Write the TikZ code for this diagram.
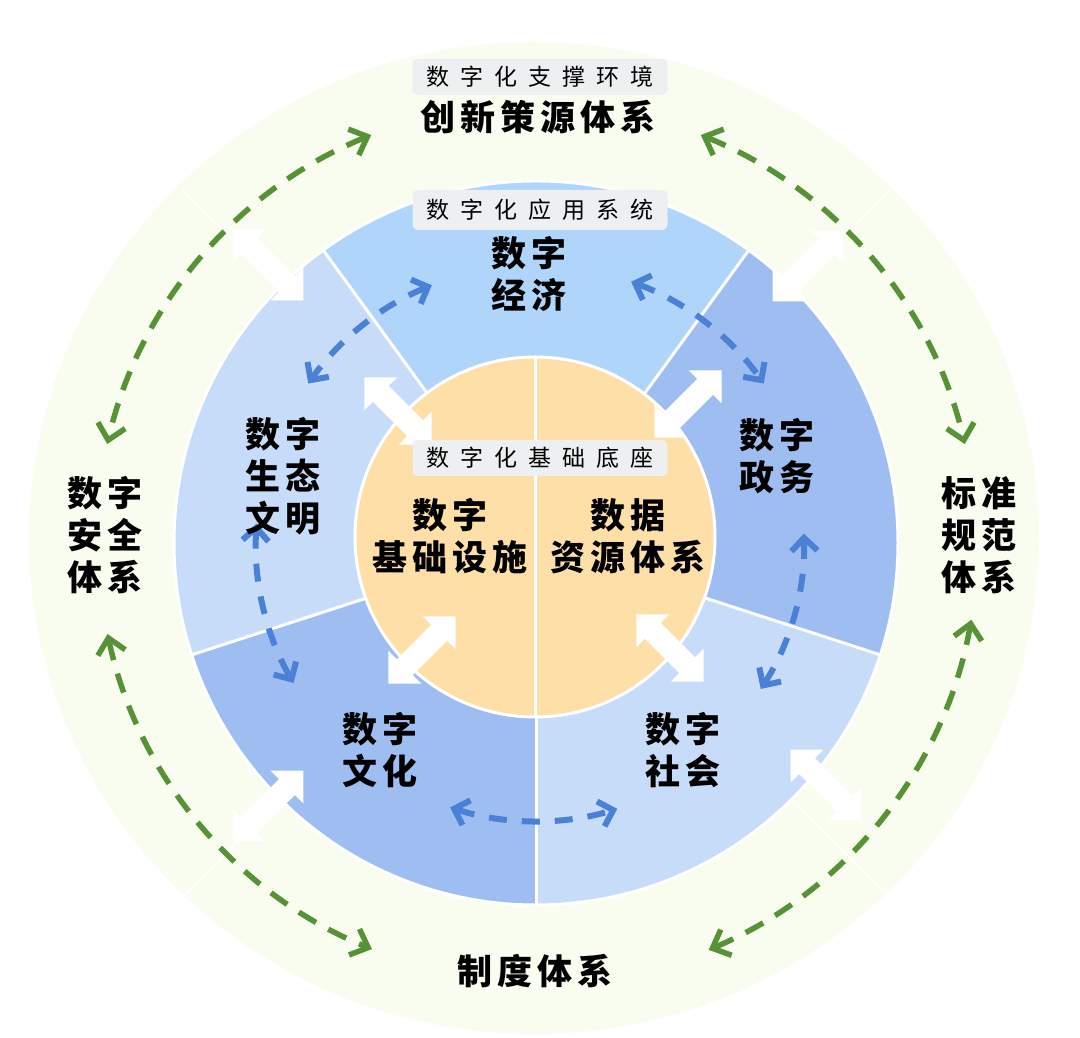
\documentclass[tikz,border=0pt]{standalone}
\usepackage{fontspec}
\newfontfamily\cjk{Noto Sans CJK SC}[LetterSpace=14]
\newfontfamily\cjktag{Noto Sans CJK SC}[LetterSpace=48]
\usetikzlibrary{arrows.meta,shapes.arrows}

\definecolor{ringbg}{RGB}{249,253,239}
\definecolor{sececon}{RGB}{175,214,250}
\definecolor{secpale}{RGB}{199,220,248}
\definecolor{secmid}{RGB}{158,190,241}
\definecolor{basecol}{RGB}{254,223,168}
\definecolor{tagbg}{RGB}{237,239,241}
\definecolor{dashgreen}{RGB}{88,146,54}
\definecolor{dashblue}{RGB}{74,128,214}

\tikzset{
  ringtext/.style={font=\cjk\bfseries\fontsize{35}{42}\selectfont, align=center, inner sep=0pt},
  tagbox/.style={fill=tagbg, rounded corners=5pt, minimum width=255pt, minimum height=36pt,
                 inner sep=0pt, font=\cjktag\fontsize{23}{23}\selectfont},
  blockarrow/.style={double arrow, fill=white, inner xsep=0pt, inner ysep=11pt,
                     double arrow head extend=12pt, double arrow tip angle=90, minimum height=#1},
  blockarrow/.default=95pt,
  greendash/.style={draw=dashgreen, line width=5.5pt, dash pattern=on 20pt off 14pt,
                    >={Straight Barb[length=15pt,width=28pt]}, <->},
  bluedash/.style={draw=dashblue, line width=6pt, dash pattern=on 18pt off 15pt,
                   >={Straight Barb[length=13pt,width=26pt]}, <->},
}

\begin{document}
\begin{tikzpicture}[x=1pt, y=1pt]
    \useasboundingbox (0,0) rectangle (1080,1038);

    % outer ring
    \fill[ringbg] (534,500) ellipse [x radius=505, y radius=496];

    \begin{scope}[shift={(536,495)}]
        \foreach \a in {45,135,225,315}
            \draw[white, line width=2pt] (\a:364) -- (\a:500);

        % application sectors
        \fill[sececon] (0,0) -- (54:362) arc[start angle=54, end angle=126, radius=362] -- cycle;
        \fill[secpale] (0,0) -- (126:362) arc[start angle=126, end angle=198, radius=362] -- cycle;
        \fill[secmid] (0,0) -- (198:362) arc[start angle=198, end angle=270, radius=362] -- cycle;
        \fill[secpale] (0,0) -- (270:362) arc[start angle=270, end angle=342, radius=362] -- cycle;
        \fill[secmid] (0,0) -- (342:362) arc[start angle=342, end angle=414, radius=362] -- cycle;
        \draw[white, line width=3pt] (0,0) circle (362);
        \foreach \a in {54,126,198,270,342}
            \draw[white, line width=3pt] (0,0) -- (\a:362);
    \end{scope}

    % base circle
    \fill[basecol] (535,501) circle (180);
    \draw[white, line width=3pt] (535,501) circle (180);
    \draw[white, line width=3pt] (535,321) -- (535,681);

    % white block arrows
    \node[blockarrow=100pt, rotate=-45] (ao1) at (268,773) {};
    \node[blockarrow=100pt, rotate=45] (ao2) at (808,772) {};
    \node[blockarrow=100pt, rotate=45] (ao3) at (268,232) {};
    \node[blockarrow=100pt, rotate=-45] (ao4) at (826,253) {};
    \node[blockarrow, rotate=-45] (ai1) at (398,627) {};
    \node[blockarrow, rotate=45] (ai2) at (688,634) {};
    \node[blockarrow, rotate=45] (ai3) at (422,388) {};
    \node[blockarrow, rotate=-45] (ai4) at (670,390) {};

    % dashed arcs
    \begin{scope}[shift={(536,495)}]
        \draw[greendash] (112:440) arc[start angle=112, end angle=167, radius=440];
        \draw[greendash] (68:440) arc[start angle=68, end angle=13, radius=440];
        \draw[greendash] (192:438) arc[start angle=192, end angle=248, radius=438];
        \draw[greendash] (293:442) arc[start angle=293, end angle=350, radius=442];

        \draw[bluedash] (112:278) arc[start angle=112, end angle=145, radius=278];
        \draw[bluedash] (70:278) arc[start angle=70, end angle=35, radius=278];
        \draw[bluedash] (176:280) arc[start angle=176, end angle=210, radius=280];
        \draw[bluedash] (2:268) arc[start angle=2, end angle=-33, radius=268];
        \draw[bluedash] (252:278) arc[start angle=252, end angle=287, radius=278];
    \end{scope}

    % tags
    \node[tagbox] (tagenv) at (540,961) {数字化支撑环境};
    \node[tagbox, minimum height=40pt] (tagapp) at (540,828) {数字化应用系统};
    \node[tagbox] (tagbase) at (540,580) {数字化基础底座};

    % labels
    \node[ringtext] (innov) at (538,921) {创新策源体系};
    \node[ringtext] (econ) at (529,764) {数字\\经济};
    \node[ringtext] (infra) at (450,502) {数字\\基础设施};
    \node[ringtext] (data) at (628,502) {数据\\资源体系};
    \node[ringtext] (eco) at (283,562) {数字\\生态\\文明};
    \node[ringtext] (gov) at (777,582) {数字\\政务};
    \node[ringtext] (culture) at (380,288) {数字\\文化};
    \node[ringtext] (society) at (683,288) {数字\\社会};
    \node[ringtext] (security) at (105,503) {数字\\安全\\体系};
    \node[ringtext] (standard) at (979,503) {标准\\规范\\体系};
    \node[ringtext] (system) at (535,67) {制度体系};

\end{tikzpicture}
\end{document}
